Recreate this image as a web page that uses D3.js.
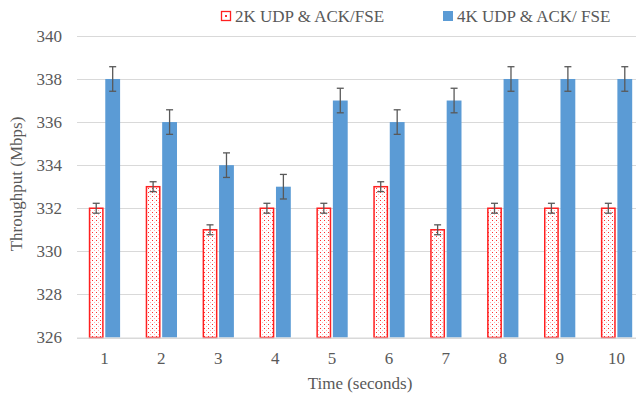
<!DOCTYPE html>
<html>
<head>
<meta charset="utf-8">
<script src="https://cdn.jsdelivr.net/npm/d3@7"></script>
<style>
  body { margin: 0; background: #fff; }
  text { font-family: "Liberation Serif", "Times New Roman", serif; fill: #595959; font-size: 17px; }
</style>
</head>
<body>
<div id="chart"></div>
<script>
// data
const times = ["1", "2", "3", "4", "5", "6", "7", "8", "9", "10"];
const series = ["2K UDP & ACK/FSE", "4K UDP & ACK/ FSE"];
const udp2k = [332, 333, 331, 332, 332, 333, 331, 332, 332, 332];
const udp4k = [338, 336, 334, 333, 337, 336, 337, 338, 338, 338];
const err2k = [0.23, 0.23, 0.23, 0.23, 0.23, 0.23, 0.23, 0.23, 0.23, 0.23];
const err4k = [0.57, 0.57, 0.57, 0.57, 0.57, 0.57, 0.57, 0.57, 0.57, 0.57];
const yTicks = [326, 328, 330, 332, 334, 336, 338, 340];

const width = 636, height = 394;
const svg = d3.select('#chart').append('svg')
  .attr('width', width)
  .attr('height', height);

const defs = svg.append('defs');
const pat = defs.append('pattern')
  .attr('id', 'dots')
  .attr('patternUnits', 'userSpaceOnUse')
  .attr('width', 4).attr('height', 4);
pat.append('rect').attr('width', 4).attr('height', 4).attr('fill', '#fff');
pat.append('rect').attr('x', 0).attr('y', 0).attr('width', 1).attr('height', 1).attr('fill', '#ff3030');
pat.append('rect').attr('x', 2).attr('y', 2).attr('width', 1).attr('height', 1).attr('fill', '#ffb0b0');

const x = d3.scaleBand().domain(times).range([76, 645]).paddingInner(0.45).paddingOuter(0.225);
const x1 = d3.scaleBand().domain(series).range([0, x.bandwidth()]).paddingInner(0.1);
const y = d3.scaleLinear().domain([326, 340]).range([337.5, 35.9]);

// gridlines
svg.append('g')
  .selectAll('line')
  .data(yTicks)
  .join('line')
  .attr('x1', 77).attr('x2', width)
  .attr('y1', d => Math.round(y(d)) + 0.5).attr('y2', d => Math.round(y(d)) + 0.5)
  .attr('stroke', '#d9d9d9').attr('stroke-width', 1);

// y tick labels
svg.append('g')
  .selectAll('text')
  .data(yTicks)
  .join('text')
  .attr('x', 62).attr('y', d => y(d))
  .attr('dy', '0.35em')
  .attr('text-anchor', 'end')
  .text(d => d);

// x tick labels
svg.append('g')
  .selectAll('text')
  .data(times)
  .join('text')
  .attr('x', d => x(d) + x.bandwidth() / 2)
  .attr('y', 364)
  .attr('text-anchor', 'middle')
  .text(d => d);

// axis titles
svg.append('text')
  .attr('x', 360).attr('y', 389)
  .attr('text-anchor', 'middle')
  .text('Time (seconds)');
svg.append('text')
  .attr('transform', 'translate(22,184) rotate(-90)')
  .attr('text-anchor', 'middle')
  .text('Throughput (Mbps)');

const rows = times.map((t, i) => ({ t, a: udp2k[i], b: udp4k[i], ea: err2k[i], eb: err4k[i] }));

// 2K bars (dotted)
svg.append('g')
  .selectAll('rect')
  .data(rows)
  .join('rect')
  .attr('x', d => x(d.t) + x1(series[0]) + 0.75)
  .attr('y', d => y(d.a))
  .attr('width', x1.bandwidth() - 1.5)
  .attr('height', d => y(326) - y(d.a))
  .attr('fill', 'url(#dots)')
  .attr('stroke', '#ff2020').attr('stroke-width', 1.5);

// 4K bars
svg.append('g')
  .selectAll('rect')
  .data(rows)
  .join('rect')
  .attr('x', d => x(d.t) + x1(series[1]))
  .attr('y', d => y(d.b))
  .attr('width', x1.bandwidth())
  .attr('height', d => y(326) - y(d.b))
  .attr('fill', '#5b9bd5');

// bottom axis line
svg.append('line')
  .attr('x1', 77).attr('x2', width)
  .attr('y1', 338).attr('y2', 338)
  .attr('stroke', '#d9d9d9');

// error bars
function errBars(key, ekey, s) {
  const g = svg.append('g').attr('stroke', '#595959').attr('stroke-width', 1.3).attr('fill', 'none');
  rows.forEach(d => {
    const cx = x(d.t) + x1(s) + x1.bandwidth() / 2;
    const y0 = y(d[key] - d[ekey]), y1 = y(d[key] + d[ekey]);
    g.append('line').attr('x1', cx).attr('x2', cx).attr('y1', y0).attr('y2', y1);
    g.append('line').attr('x1', cx - 3.5).attr('x2', cx + 3.5).attr('y1', y0).attr('y2', y0);
    g.append('line').attr('x1', cx - 3.5).attr('x2', cx + 3.5).attr('y1', y1).attr('y2', y1);
  });
}
errBars('a', 'ea', series[0]);
errBars('b', 'eb', series[1]);

// legend
const leg = svg.append('g');
leg.append('rect').attr('x', 221.5).attr('y', 11.5).attr('width', 9).attr('height', 9)
  .attr('fill', '#fff').attr('stroke', '#ff2020').attr('stroke-width', 1.3);
leg.append('rect').attr('x', 225).attr('y', 15).attr('width', 2).attr('height', 2).attr('fill', '#ff3030');
leg.append('text').attr('x', 235).attr('y', 21.5).text(series[0]);
leg.append('rect').attr('x', 443).attr('y', 11).attr('width', 10).attr('height', 10).attr('fill', '#5b9bd5');
leg.append('text').attr('x', 457).attr('y', 21.5).text(series[1]);
</script>
</body>
</html>
